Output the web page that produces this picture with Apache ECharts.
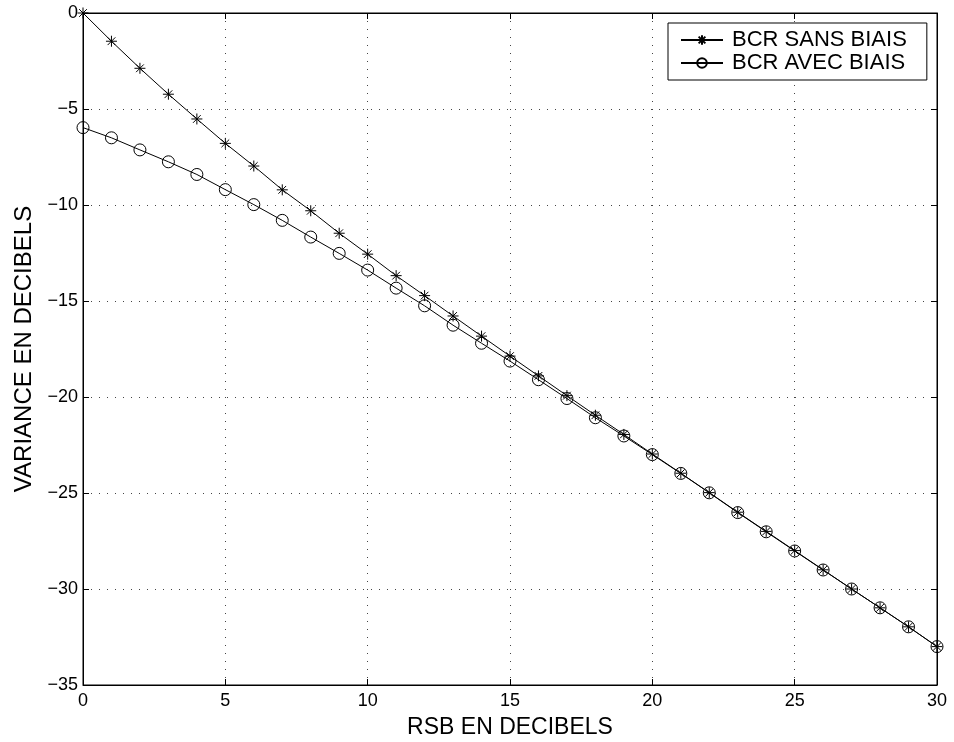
<!DOCTYPE html>
<html>
<head>
<meta charset="utf-8">
<script src="https://cdn.jsdelivr.net/npm/echarts@6/dist/echarts.min.js"></script>
<style>
html,body{margin:0;padding:0;background:#fff;}
#chart{width:954px;height:742px;}
</style>
</head>
<body>
<div id="chart"></div>
<script>
var rsb = [0,1,2,3,4,5,6,7,8,9,10,11,12,13,14,15,16,17,18,19,20,21,22,23,24,25,26,27,28,29,30];
var bcrSansBiais = [0,-1.47,-2.88,-4.23,-5.52,-6.79,-7.97,-9.21,-10.3,-11.47,-12.56,-13.68,-14.72,-15.78,-16.83,-17.87,-18.9,-19.93,-20.95,-21.95,-22.97,-23.97,-24.98,-26.0,-27.0,-28.0,-29.0,-30.0,-30.98,-31.97,-33.0];
var bcrAvecBiais = [-5.97,-6.5,-7.13,-7.75,-8.41,-9.2,-9.98,-10.8,-11.67,-12.52,-13.39,-14.33,-15.25,-16.26,-17.2,-18.13,-19.1,-20.08,-21.08,-22.03,-23.0,-23.98,-24.99,-26.02,-27.02,-28.02,-29.01,-30.0,-30.98,-31.97,-33.0];
var seriesNames = ['BCR SANS BIAIS','BCR AVEC BIAIS'];
var xTitle = 'RSB EN DECIBELS';
var yTitle = 'VARIANCE EN DECIBELS';

var FONT = '"Liberation Sans", Arial, Helvetica, sans-serif';
var star = 'path://M0,5L10,5M5,0L5,10M1.5,1.5L8.5,8.5M1.5,8.5L8.5,1.5';
function minus(v){ return String(v).replace('-', '\u2212'); }
function pairs(xs, ys){ return xs.map(function(x,i){ return [x, ys[i]]; }); }

var gridLine = {show:true, lineStyle:{color:'#444', width:1, type:[1,7]}};
var chart = echarts.init(document.getElementById('chart'), null, {renderer:'canvas'});
chart.setOption({
  animation:false,
  backgroundColor:'#fff',
  grid:{left:83, right:17, top:13, bottom:57, containLabel:false, outerBoundsMode:'none',
        show:true, borderColor:'#000', borderWidth:1, backgroundColor:'transparent'},
  legend:{
    orient:'vertical', left:668, top:23,
    backgroundColor:'#fff', borderColor:'#000', borderWidth:1,
    padding:[6,20,6,12], itemGap:1, itemWidth:42, itemHeight:12,
    textStyle:{fontFamily:FONT, fontSize:22, color:'#000', padding:[0,0,0,4]},
    data:seriesNames
  },
  xAxis:[{
    type:'value', min:0, max:30, interval:5,
    name:xTitle, nameLocation:'middle', nameGap:31,
    nameTextStyle:{fontFamily:FONT, fontSize:23, color:'#000'},
    axisLine:{show:true, onZero:false, lineStyle:{color:'#000', width:1}},
    axisTick:{show:true, inside:true, length:6, lineStyle:{color:'#000'}},
    axisLabel:{fontFamily:FONT, fontSize:18, color:'#000', margin:7, formatter:minus},
    splitLine:gridLine
  },{
    type:'value', min:0, max:30, interval:5, position:'top',
    axisLine:{show:true, onZero:false, lineStyle:{color:'#000'}},
    axisTick:{show:true, inside:true, length:6, lineStyle:{color:'#000'}},
    axisLabel:{show:false}, splitLine:{show:false}
  }],
  yAxis:[{
    type:'value', min:-35, max:0, interval:5,
    name:yTitle, nameLocation:'middle', nameGap:46, nameRotate:90,
    nameTextStyle:{fontFamily:FONT, fontSize:24, color:'#000'},
    axisLine:{show:true, onZero:false, lineStyle:{color:'#000', width:1}},
    axisTick:{show:true, inside:true, length:6, lineStyle:{color:'#000'}},
    axisLabel:{fontFamily:FONT, fontSize:18, color:'#000', margin:5, formatter:minus},
    splitLine:gridLine
  },{
    type:'value', min:-35, max:0, interval:5, position:'right',
    axisLine:{show:true, onZero:false, lineStyle:{color:'#000'}},
    axisTick:{show:true, inside:true, length:6, lineStyle:{color:'#000'}},
    axisLabel:{show:false}, splitLine:{show:false}
  }],
  series:[{
    name:seriesNames[1], type:'line', data:pairs(rsb, bcrAvecBiais),
    symbol:'circle', symbolSize:12, showAllSymbol:true,
    lineStyle:{color:'#000', width:1},
    itemStyle:{color:'rgba(0,0,0,0)', borderColor:'#000', borderWidth:1},
    z:2
  },{
    name:seriesNames[0], type:'line', data:pairs(rsb, bcrSansBiais),
    symbol:star, symbolSize:11, showAllSymbol:true, clip:false,
    lineStyle:{color:'#000', width:1},
    itemStyle:{color:'#000', borderColor:'#000', borderWidth:1},
    z:3
  }]
});
</script>
</body>
</html>
